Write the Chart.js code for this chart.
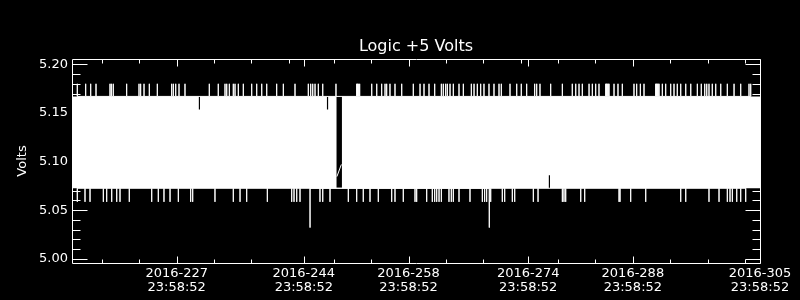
<!DOCTYPE html>
<html>
<head>
<meta charset="utf-8">
<script src="https://cdn.jsdelivr.net/npm/chart.js@4"></script>
<style>
html,body{margin:0;padding:0;background:#000;}
#wrap{width:800px;height:300px;position:relative;background:#000;}
</style>
</head>
<body>
<div id="wrap"><canvas id="c"></canvas></div>
<script>
// ---- tick labels / axis positions (day of year 2016, labels at 23:58:52) ----
const xMajorDays = [227, 244, 258, 274, 288, 305];
const xMinorDays = [217, 222, 232, 237, 248, 253, 263, 268, 278, 283, 293, 298, 303];
const xMinorTopOnlyDays = [242, 273];
const yMajorTicks = [5.00, 5.05, 5.10, 5.15, 5.20];
const yMinorTicks = [5.01, 5.02, 5.03, 5.04, 5.06, 5.07, 5.08, 5.09, 5.11, 5.12, 5.13, 5.14, 5.16, 5.17, 5.18, 5.19];
const timeOfDay = '23:58:52';

// ---- dense trace envelope (upper / lower bounds of the trace) ----
const bandUpperDaysA  = [213, 229.96, 229.96, 230.12, 230.12, 247.09, 247.09, 247.25, 247.25, 248.40];
const bandUpperVoltsA = [5.167, 5.167, 5.1535, 5.1535, 5.167, 5.167, 5.1535, 5.1535, 5.167, 5.167];
const bandLowerDaysA  = [213, 248.40];
const bandLowerVoltsA = [5.0725, 5.0725];
const bandUpperDaysB  = [249.07, 305];
const bandUpperVoltsB = [5.167, 5.167];
const bandLowerDaysB  = [249.07, 276.76, 276.76, 276.92, 276.92, 305];
const bandLowerVoltsB = [5.0725, 5.0725, 5.086, 5.086, 5.0725, 5.0725];
const gapTraceDays  = [248.42, 249.02];
const gapTraceVolts = [5.0845, 5.097];

// ---- excursions outside the envelope ----
const bandTopVolts = 5.167;
const bandBottomVolts = 5.0725;
const highSpikeVolts = 5.180;
const lowSpikeVolts = 5.0585;
const deepSpikeVolts = 5.032;
const highSpikeDays = [213.71, 214.83, 215.50, 216.21, 218.08, 218.26, 218.52, 220.31, 221.96, 222.18, 222.63, 223.34, 224.41,
  226.33, 226.55, 226.87, 227.31, 228.11, 231.36, 232.56, 233.46, 233.69, 234.04, 234.57, 234.80, 235.24, 235.91, 237.03,
  237.70, 238.37, 239.04, 240.37, 241.26, 242.82, 244.60, 244.92, 245.19, 245.50, 245.94, 246.53, 248.30, 251.07, 251.18,
  251.29, 251.40, 251.51, 253.08, 253.75, 254.41, 254.86, 255.08, 255.52, 256.19, 257.09, 258.64, 259.54, 260.07, 260.74,
  261.50, 262.39, 262.65, 262.97, 263.19, 263.55, 263.99, 264.75, 265.33, 266.40, 266.76, 267.20, 267.65, 268.09, 268.76,
  269.43, 270.10, 270.41, 271.57, 272.47, 273.08, 273.80, 274.87, 275.14, 275.58, 277.01, 278.57, 279.90, 280.36, 280.80,
  281.24, 282.14, 282.58, 283.03, 283.47, 284.37, 284.47, 284.58, 284.70, 284.81, 285.48, 286.01, 286.59, 288.15, 288.51,
  289.00, 289.49, 291.05, 291.16, 291.27, 291.38, 291.50, 291.94, 292.39, 293.06, 293.50, 293.94, 294.40, 295.07, 295.74,
  296.62, 297.15, 297.61, 297.88, 298.18, 298.62, 299.08, 299.75, 300.63, 301.53, 302.42, 303.53, 303.76];
const lowSpikeDays = [213.71, 214.74, 215.41, 217.19, 217.64, 218.31, 218.98, 219.42, 220.66, 223.66, 224.54, 225.30, 226.11,
  227.22, 228.87, 229.14, 232.12, 234.57, 235.47, 236.36, 239.12, 242.38, 242.69, 243.05, 243.49, 246.16, 246.53, 247.50,
  249.95, 251.07, 251.95, 252.85, 253.96, 255.75, 256.19, 257.30, 258.87, 259.09, 260.43, 261.18, 261.50, 261.77, 262.08,
  262.39, 263.41, 263.72, 263.99, 264.75, 266.22, 267.87, 268.18, 268.45, 268.99, 270.54, 270.86, 271.88, 272.20, 274.69,
  275.32, 278.57, 278.79, 279.02, 281.03, 281.56, 286.15, 286.28, 287.71, 289.72, 294.40, 295.07, 298.18, 299.52, 300.63,
  300.99, 301.30, 301.89, 302.42, 303.09];
const deepSpikeDays = [244.83, 268.80];

// ---- build library data ----
const pts = (xs, ys) => xs.map((x, i) => ({x: x, y: ys[i]}));
const spikes = (days, base, peak) => days.flatMap(d => [{x: d, y: base}, {x: d, y: peak}, {x: d, y: base}]);

const font13 = {family: 'DejaVu Sans', size: 13, weight: 'normal'};
const white = '#ffffff';
const lineDs = (data) => ({data, borderColor: white, borderWidth: 1, pointRadius: 0, fill: false, tension: 0});
const bandDs = (data, fill) => ({data, borderColor: white, backgroundColor: white, borderWidth: 0, pointRadius: 0, fill, tension: 0});

const frameTicks = {
  id: 'frameTicks',
  afterDraw(chart) {
    const {ctx, chartArea: a, scales: {x, y}} = chart;
    const L = Math.floor(a.left) + 0.5, R = Math.floor(a.right) + 0.5;
    const T = Math.floor(a.top) + 0.5, B = Math.floor(a.bottom) + 0.5;
    ctx.save();
    ctx.strokeStyle = white;
    ctx.lineWidth = 1;
    ctx.beginPath();
    ctx.rect(L, T, R - L, B - T);
    const yt = (v, len) => {
      const p = Math.round(y.getPixelForValue(v)) + 0.5;
      ctx.moveTo(L, p); ctx.lineTo(L + len, p);
      ctx.moveTo(R, p); ctx.lineTo(R - len, p);
    };
    yMajorTicks.forEach(v => yt(v, 15));
    yMinorTicks.forEach(v => yt(v, 8));
    const xt = (d, len, bottom, top) => {
      const p = Math.round(x.getPixelForValue(d)) + 0.5;
      if (bottom) { ctx.moveTo(p, B); ctx.lineTo(p, B - len); }
      if (top) { ctx.moveTo(p, T); ctx.lineTo(p, T + len); }
    };
    xMajorDays.forEach(d => xt(d, 7, true, true));
    xMinorDays.forEach(d => xt(d, 4, true, true));
    xMinorTopOnlyDays.forEach(d => xt(d, 4, false, true));
    ctx.stroke();
    ctx.restore();
  }
};

new Chart(document.getElementById('c'), {
  type: 'line',
  data: {
    datasets: [
      lineDs(spikes(highSpikeDays, bandTopVolts, highSpikeVolts)),
      lineDs(spikes(lowSpikeDays, bandBottomVolts, lowSpikeVolts)),
      lineDs(spikes(deepSpikeDays, bandBottomVolts, deepSpikeVolts)),
      lineDs(pts(gapTraceDays, gapTraceVolts)),
      bandDs(pts(bandUpperDaysA, bandUpperVoltsA), '+1'),
      bandDs(pts(bandLowerDaysA, bandLowerVoltsA), false),
      bandDs(pts(bandUpperDaysB, bandUpperVoltsB), '+1'),
      bandDs(pts(bandLowerDaysB, bandLowerVoltsB), false)
    ]
  },
  options: {
    responsive: true,
    maintainAspectRatio: false,
    animation: false,
    events: [],
    layout: {padding: {left: 0, right: 40, top: 0, bottom: 0}},
    plugins: {
      legend: {display: false},
      tooltip: {enabled: false},
      title: {
        display: true, text: 'Logic +5 Volts', color: white, fullSize: false,
        font: {family: 'DejaVu Sans', size: 16, weight: 'normal', lineHeight: 1.1875},
        padding: {top: 37, bottom: 3}
      }
    },
    scales: {
      x: {
        type: 'linear', min: 213, max: 305,
        grid: {display: false, drawTicks: false},
        border: {display: false},
        afterBuildTicks: s => { s.ticks = xMajorDays.map(v => ({value: v})); },
        afterFit: s => { s.height = 37; },
        ticks: {
          color: white, font: Object.assign({}, font13, {lineHeight: 1.1}), padding: 3,
          autoSkip: false, maxRotation: 0, minRotation: 0,
          callback: v => ['2016-' + v, timeOfDay]
        }
      },
      y: {
        type: 'linear', min: 4.9956, max: 5.2055,
        grid: {display: false, drawTicks: false},
        border: {display: false},
        afterBuildTicks: s => { s.ticks = yMajorTicks.map(v => ({value: v})); },
        afterFit: s => { s.width = 72; },
        ticks: {color: white, font: font13, padding: 4, callback: v => Number(v).toFixed(2)},
        title: {display: true, text: 'Volts', color: white, font: font13, padding: {top: 15, bottom: 0}}
      }
    }
  },
  plugins: [frameTicks]
});
</script>
</body>
</html>
